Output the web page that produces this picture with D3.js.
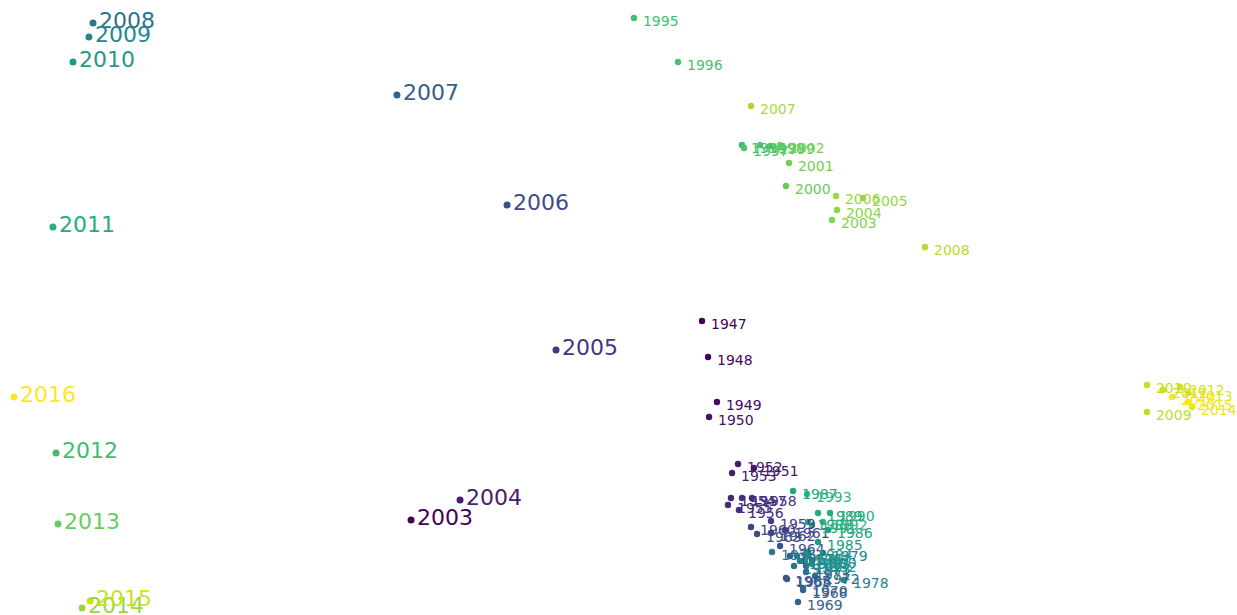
<!DOCTYPE html>
<meta charset="utf-8">
<title>Years scatter</title>
<script src="https://d3js.org/d3.v7.min.js"></script>
<style>
  body { margin: 0; background: #fff; }
  text { font-family: "DejaVu Sans", sans-serif; }
</style>
<body>
<svg id="chart" width="1237" height="615"></svg>
</body>
<script>
// recent years, big labels
const yearsA = [2003, 2004, 2005, 2006, 2007, 2008, 2009, 2010, 2011, 2012, 2013, 2014, 2015, 2016]
const xA = [33.23, 37.19, 44.95, 40.99, 32.09, 7.52, 7.19, 5.9, 4.28, 4.53, 4.69, 6.63, 7.28, 1.13]
const yA = [15.45, 18.7, 43.09, 66.67, 84.55, 96.26, 93.98, 89.92, 63.09, 26.34, 14.8, 1.14, 2.28, 35.45]

// full series, small labels
const yearsB = d3.range(1947, 2017)
const xB = [56.75, 57.24, 57.96, 57.32, 60.95, 59.66, 59.18, 59.09, 58.85, 59.74,
            59.98, 60.79, 62.33, 60.71, 63.46, 62.33, 61.2, 63.06, 63.54, 63.62,
            63.86, 64.92, 64.51, 64.92, 65.16, 65.89, 65.16, 64.19, 62.41, 64.43,
            64.67, 68.23, 66.53, 65.64, 65.16, 65.64, 65.08, 65.32, 66.13, 66.94,
            64.11, 65.32, 66.13, 67.1, 65.64, 66.53, 65.24, 59.98, 51.25, 54.81,
            60.15, 61.44, 62.25, 63.54, 63.78, 63.06, 67.26, 67.66, 69.77, 67.58,
            60.71, 74.78, 92.72, 92.72, 94.02, 95.39, 96.04, 96.36, 96.04, 94.75]
const yB = [47.8, 41.95, 34.63, 32.2, 23.9, 24.55, 23.09, 19.02, 17.89, 17.07,
            19.02, 19.02, 15.28, 14.31, 13.82, 13.33, 13.17, 11.22, 6.02, 5.85,
            9.59, 4.07, 2.11, 4.39, 6.99, 6.34, 7.97, 7.97, 10.24, 9.59,
            8.78, 5.69, 10.08, 8.94, 9.43, 8.29, 8.78, 10.24, 11.87, 13.82,
            20.16, 15.12, 16.59, 16.59, 14.63, 15.12, 19.67, 76.42, 97.07, 89.92,
            75.93, 76.42, 76.26, 69.76, 73.5, 76.42, 64.23, 65.85, 67.8, 68.13,
            82.76, 59.84, 33.01, 37.4, 36.59, 37.07, 36.1, 33.82, 34.63, 35.45]

const width = 1237, height = 615
const svg = d3.select("#chart")

const x = d3.scaleLinear().domain([0, 100]).range([0, width])
const y = d3.scaleLinear().domain([0, 100]).range([height, 0])

function drawSet(years, xs, ys, r, fontSize, dx, dy) {
    const color = d3.scaleSequential(d3.interpolateViridis)
        .domain([d3.min(years), d3.max(years)])
    const data = years.map((yr, i) => ({ year: yr, x: xs[i], y: ys[i] }))
    const g = svg.append("g")

    g.selectAll("circle")
        .data(data)
        .enter().append("circle")
        .attr("cx", d => x(d.x))
        .attr("cy", d => y(d.y))
        .attr("r", r)
        .attr("fill", d => color(d.year))

    g.selectAll("text")
        .data(data)
        .enter().append("text")
        .attr("x", d => x(d.x) + dx)
        .attr("y", d => y(d.y) + dy)
        .attr("font-size", fontSize)
        .attr("fill", d => color(d.year))
        .text(d => d.year)
}

drawSet(yearsB, xB, yB, 3.2, 14, 9, 8)
drawSet(yearsA, xA, yA, 3.5, 22, 6, 5)
</script>
